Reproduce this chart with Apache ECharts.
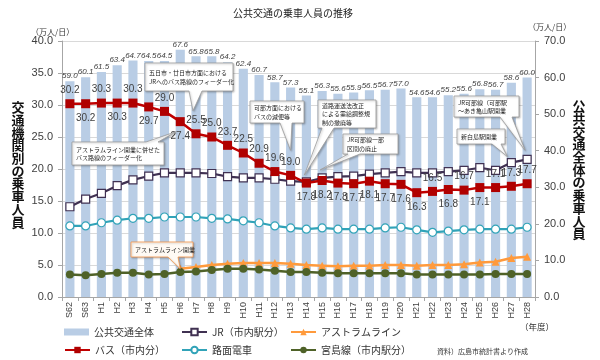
<!DOCTYPE html>
<html><head><meta charset="utf-8">
<script src="https://cdn.jsdelivr.net/npm/echarts@6/dist/echarts.min.js"></script>
<style>html,body{margin:0;padding:0;background:#fff}#c{width:600px;height:360px}</style>
</head><body><div id="c"></div>
<script>
// ---------- data ----------
const categories = ['S62','S63','H1','H2','H3','H4','H5','H6','H7','H8','H9','H10','H11','H12','H13','H14','H15','H16','H17','H18','H19','H20','H21','H22','H23','H24','H25','H26','H27','H28'];
const totalRiders = [59.0,60.1,61.5,63.4,64.7,64.5,64.5,67.6,65.8,65.8,64.2,62.4,60.7,58.7,57.3,55.1,56.3,55.6,55.9,56.5,56.7,57.0,54.6,54.6,55.2,55.6,56.8,56.7,58.6,60.0];
const busRiders = [30.2,30.2,30.3,30.3,30.3,29.7,29.0,27.4,25.5,25.0,23.7,22.5,20.9,19.6,19.0,17.8,18.2,17.8,17.7,18.1,17.7,17.6,16.3,16.5,16.8,16.7,17.1,17.1,17.3,17.7];
const jrRiders = [14.1,15.3,16.2,17.4,18.3,18.9,19.4,19.4,19.4,19.3,18.8,18.6,18.6,18.4,18.1,18.0,18.6,18.8,18.9,19.2,19.4,19.6,19.4,19.4,19.6,19.8,20.2,19.8,21.0,21.5];
const astramRiders = [null,null,null,null,null,null,null,4.4,4.7,5.0,5.2,5.3,5.3,5.3,5.2,5.0,4.9,4.8,4.9,4.9,5.0,5.0,4.9,5.0,5.0,5.1,5.4,5.5,6.1,6.3];
const tramRiders = [11.1,11.1,11.6,12.0,12.3,12.3,12.5,12.5,12.5,12.3,12.2,11.9,11.6,11.1,10.8,10.6,10.8,10.6,10.6,10.6,10.8,10.9,10.5,10.1,10.3,10.5,10.6,10.6,10.6,10.9];
const miyajimaRiders = [3.5,3.4,3.6,3.8,3.8,3.5,3.6,3.9,4.0,4.2,4.4,4.4,4.3,4.1,3.9,3.9,3.8,3.7,3.7,3.7,3.7,3.7,3.5,3.5,3.5,3.5,3.5,3.6,3.6,3.6];
const leftAxisMax = 40, leftAxisStep = 5;
const rightAxisMax = 70, rightAxisStep = 10;
const seriesNames = ['公共交通全体','JR（市内駅分）','アストラムライン','バス（市内分）','路面電車','宮島線（市内駅分）'];
const titleText = '公共交通の乗車人員の推移';
const unitText = '（万人/日）';
const leftAxisTitle = '交通機関別の乗車人員';
const rightAxisTitle = '公共交通全体の乗車人員';

// ---------- styles / layout ----------
const busLabelPlace = ['top','bottom','top','bottom','top','bottom','top','bottom','top','top','top','top','top','top','top',
  'bottom','bottom','bottom','bottom','bottom','bottom','bottom','bottom','top','bottom','top','bottom','top','top','top'];
const JP = '"Noto Sans CJK JP", sans-serif';
const NUM = '"Liberation Sans", Arial, sans-serif';
const legendSpots = [[64,327],[181,327],[290,327],[64,345],[181,345],[290,345]];
const notes = [
 {text:'五日市・廿日市方面における\nJRへのバス路線のフィーダー化', box:[145,63,88,28], side:'bottom', base:[189,202], on:'bus', cat:'H7', off:[-3,-23]},
 {text:'アストラムライン開業に併せた\nバス路線のフィーダー化', box:[72,142,92,23], side:'top', base:[146,158], on:'bus', cat:'H6', off:[-4,10]},
 {text:'可部方面における\nバスの減便等', box:[250,101,54,22], side:'bottom', base:[280,292], on:'bus', cat:'H13', off:[0,-25]},
 {text:'道路運送法改正\nによる需給調整規\n制の撤廃等', box:[318,100,58,28], side:'bottom', base:[322,334], on:'bus', cat:'H14', off:[-2,-8]},
 {text:'JR可部線一部\n区間の廃止', box:[343,134,55,20], side:'bottom', base:[348,360], on:'jr', cat:'H15', off:[-2,-8]},
 {text:'JR可部線（可部駅\n～あき亀山駅開業', box:[454,96,65,21], side:'bottom', base:[500,512], on:'jr', cat:'H28', off:[-2,-9]},
 {text:'新白島駅開業', box:[457,129,48,15], side:'bottom', base:[492,501], on:'jr', cat:'H27', off:[-4,-6]},
 {text:'アストラムライン開業', box:[131,242,62,15], side:'bottom', base:[168,178], on:'astram', cat:'H6', off:[0,0], stroke:'#f79646', fill:'#fffaf4'}
];

const chart = echarts.init(document.getElementById('c'), null, {renderer:'canvas'});
const axisGray = '#a6a6a6';
const fmt1 = p => (typeof p === 'number' ? p : p.value).toFixed(1);

const legends = seriesNames.map((nm, i) => ({
  data:[i === 0 ? {name:nm, icon:'rect'} : nm],
  left:legendSpots[i][0], top:legendSpots[i][1], padding:0,
  itemWidth:25, itemHeight:i === 0 ? 7 : 8,
  textStyle:{fontSize:10, color:'#333', fontFamily:JP}
}));

const option = {
  animation:false,
  textStyle:{fontFamily:JP},
  title:{text:titleText, left:228, top:3, textStyle:{fontSize:10, fontWeight:'normal', color:'#222', fontFamily:JP}},
  grid:{left:62, right:65, top:41, bottom:63},
  legend:legends,
  xAxis:{type:'category', data:categories, boundaryGap:true,
    axisLine:{lineStyle:{color:axisGray}}, axisTick:{show:true, length:4, lineStyle:{color:axisGray}},
    axisLabel:{rotate:90, interval:0, fontSize:9, color:'#404040', margin:5, fontFamily:NUM}},
  yAxis:[
    {type:'value', min:0, max:leftAxisMax, interval:leftAxisStep, position:'left',
     axisLine:{show:true, lineStyle:{color:axisGray}}, axisTick:{show:true, length:4, lineStyle:{color:axisGray}},
     axisLabel:{formatter:v=>v.toFixed(1), fontSize:11, color:'#404040', margin:9, fontFamily:NUM},
     splitLine:{show:true, lineStyle:{color:'#d9d9d9', width:1}}},
    {type:'value', min:0, max:rightAxisMax, interval:rightAxisStep, position:'right',
     axisLine:{show:true, lineStyle:{color:axisGray}}, axisTick:{show:true, length:4, lineStyle:{color:axisGray}},
     axisLabel:{formatter:v=>v.toFixed(1), fontSize:11, color:'#404040', margin:9, fontFamily:NUM},
     splitLine:{show:false}}
  ],
  series:[
    {name:seriesNames[0], type:'bar', yAxisIndex:1, data:totalRiders, barWidth:'58%', z:1,
     itemStyle:{color:'#b9cde5'},
     label:{show:true, position:'top', distance:1, formatter:fmt1, fontSize:8, fontStyle:'italic', color:'#404040', fontFamily:NUM}},
    {name:seriesNames[1], type:'line', yAxisIndex:0, data:jrRiders, z:3,
     symbol:'rect', symbolSize:8, showAllSymbol:true,
     lineStyle:{color:'#403152', width:2.2}, itemStyle:{color:'#fff', borderColor:'#403152', borderWidth:1.2}},
    {name:seriesNames[2], type:'line', yAxisIndex:0, data:astramRiders, z:3,
     symbol:'triangle', symbolSize:8, showAllSymbol:true, connectNulls:false,
     lineStyle:{color:'#ff9a3c', width:2.5}, itemStyle:{color:'#ff9a3c'}},
    {name:seriesNames[3], type:'line', yAxisIndex:0, z:5,
     data:busRiders.map((v,i)=>({value:v, label:{position:busLabelPlace[i], distance: busLabelPlace[i]==='top'?4:5}})),
     symbol:'rect', symbolSize:9, showAllSymbol:true,
     lineStyle:{color:'#c00000', width:2.5}, itemStyle:{color:'#b00000'},
     label:{show:true, formatter:fmt1, fontSize:10, color:'#404040', fontFamily:NUM}},
    {name:seriesNames[4], type:'line', yAxisIndex:0, data:tramRiders, z:3,
     symbol:'circle', symbolSize:8, showAllSymbol:true,
     lineStyle:{color:'#31a3b8', width:2.2}, itemStyle:{color:'#fff', borderColor:'#31a3b8', borderWidth:1.2}},
    {name:seriesNames[5], type:'line', yAxisIndex:0, data:miyajimaRiders, z:4,
     symbol:'circle', symbolSize:8, showAllSymbol:true,
     lineStyle:{color:'#4f6228', width:2.5}, itemStyle:{color:'#4f6228'}}
  ]
};
chart.setOption(option);

// ---------- annotations ----------
const seriesRef = {bus:{idx:3, data:busRiders}, jr:{idx:1, data:jrRiders}, astram:{idx:2, data:astramRiders}};
const graphics = [];
graphics.push({type:'text', z:100, style:{text:unitText, x:31, y:32, fontSize:8, fontFamily:JP, fill:'#333', verticalAlign:'middle', textVerticalAlign:'middle'}});
graphics.push({type:'text', z:100, style:{text:unitText, x:528, y:27, fontSize:8, fontFamily:JP, fill:'#333', verticalAlign:'middle', textVerticalAlign:'middle'}});
graphics.push({type:'text', z:100, style:{text:'（年度）', x:520, y:327, fontSize:8.5, fontFamily:JP, fill:'#333', verticalAlign:'middle', textVerticalAlign:'middle'}});
graphics.push({type:'text', z:100, style:{text:'資料）広島市統計書より作成', x:437, y:351, fontSize:7, fontFamily:JP, fill:'#333', verticalAlign:'middle', textVerticalAlign:'middle'}});
graphics.push({type:'text', z:100, style:{text:leftAxisTitle.split('').join('\n'), x:18, y:101, fontSize:13, lineHeight:12.7, fontWeight:'bold', fontFamily:JP, fill:'#111', align:'center', textAlign:'center', verticalAlign:'top', textVerticalAlign:'top'}});
graphics.push({type:'text', z:100, style:{text:rightAxisTitle.split('').join('\n'), x:579, y:100, fontSize:13, lineHeight:12.7, fontWeight:'bold', fontFamily:JP, fill:'#111', align:'center', textAlign:'center', verticalAlign:'top', textVerticalAlign:'top'}});

notes.forEach(n => {
  const ref = seriesRef[n.on];
  const ci = categories.indexOf(n.cat);
  const p = chart.convertToPixel({seriesIndex:ref.idx}, [ci, ref.data[ci]]);
  const tip = [p[0] + n.off[0], p[1] + n.off[1]];
  const [x,y,w,h] = n.box;
  let pts;
  if (n.side === 'bottom') {
    pts = [[x,y],[x+w,y],[x+w,y+h],[n.base[1],y+h],tip,[n.base[0],y+h],[x,y+h]];
  } else {
    pts = [[x,y],[n.base[0],y],tip,[n.base[1],y],[x+w,y],[x+w,y+h],[x,y+h]];
  }
  graphics.push({type:'polygon', z:100, shape:{points:pts},
    style:{fill:n.fill||'#fff', stroke:n.stroke||'#9a9a9a', lineWidth:0.8, shadowBlur:2, shadowColor:'rgba(0,0,0,0.25)', shadowOffsetX:1, shadowOffsetY:1}});
  graphics.push({type:'text', z:101, style:{text:n.text, x:x+4, y:y+h/2, fontSize:6, lineHeight:8.5, fontFamily:JP, fill:'#222', verticalAlign:'middle', textVerticalAlign:'middle'}});
});
chart.setOption({graphic:graphics});
</script>
</body></html>
